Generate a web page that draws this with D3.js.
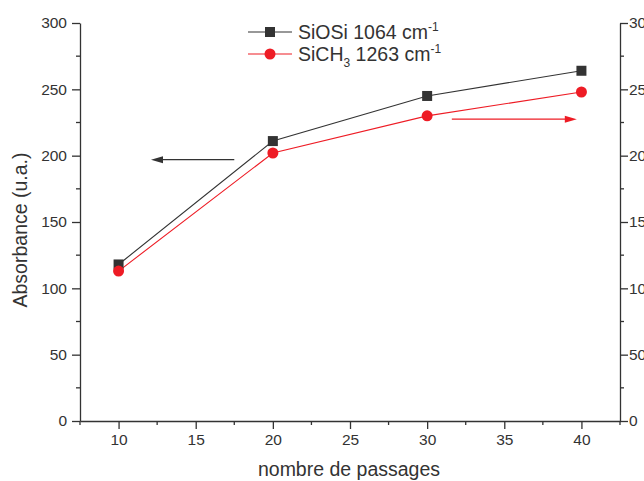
<!DOCTYPE html>
<html><head><meta charset="utf-8">
<script src="https://cdn.jsdelivr.net/npm/d3@7"></script>
<style>body{margin:0;background:#fff}svg{display:block;font-family:Arial,"Liberation Sans",sans-serif}</style>
</head><body><svg id="c" width="644" height="481"></svg>
<script>
const passages = [10, 20, 30, 40];
const siosi = [118, 211, 245, 264];
const sich3 = [113, 202, 230, 248];
const xTicks = [10, 15, 20, 25, 30, 35, 40];
const yTicks = [0, 50, 100, 150, 200, 250, 300];
const xMinor = [7.5, 12.5, 17.5, 22.5, 27.5, 32.5, 37.5, 42.5];
const yMinor = [25, 75, 125, 175, 225, 275];
// annotation arrows in data units: [x1, x2, y]
const arrowLeft = [17.5, 12.1, 197];
const arrowRight = [31.6, 39.7, 227.5];

const svg = d3.select("#c");
const m = {l: 80, r: 620, t: 23, b: 421};
const x = d3.scaleLinear().domain([7.5, 42.5]).range([m.l, m.r]);
const y = d3.scaleLinear().domain([0, 300]).range([m.b, m.t]);
const axCol = "#333";
const tickFont = 15.5, titleFont = 19.5;

function style(g){
  g.selectAll("path.domain").attr("stroke", axCol).attr("stroke-width", 1.3);
  g.selectAll(".tick line").attr("stroke", axCol).attr("stroke-width", 1.3);
  g.selectAll(".tick text").attr("fill", axCol).attr("font-size", tickFont);
}
// left axis
const gl = svg.append("g").attr("transform", `translate(${m.l},0)`)
  .call(d3.axisLeft(y).tickValues(yTicks).tickSize(8).tickPadding(5).tickSizeOuter(0));
style(gl);
gl.selectAll(".minor").data(yMinor).join("line").attr("class","minor")
  .attr("x1", -4).attr("x2", 0).attr("y1", d=>y(d)).attr("y2", d=>y(d)).attr("stroke", axCol).attr("stroke-width", 1.3);
// right axis
const gr = svg.append("g").attr("transform", `translate(${m.r},0)`)
  .call(d3.axisRight(y).tickValues(yTicks).tickSize(8).tickPadding(1).tickSizeOuter(0));
style(gr);
gr.selectAll(".minor").data(yMinor).join("line").attr("class","minor")
  .attr("x1", 0).attr("x2", 4).attr("y1", d=>y(d)).attr("y2", d=>y(d)).attr("stroke", axCol).attr("stroke-width", 1.3);
// bottom axis
const gb = svg.append("g").attr("transform", `translate(0,${m.b})`)
  .call(d3.axisBottom(x).tickValues(xTicks).tickSize(8).tickPadding(5).tickSizeOuter(0));
style(gb);
gb.selectAll(".minor").data(xMinor).join("line").attr("class","minor")
  .attr("y1", 0).attr("y2", 4).attr("x1", d=>x(d)).attr("x2", d=>x(d)).attr("stroke", axCol).attr("stroke-width", 1.3);

// axis titles
svg.append("text").attr("x", 349).attr("y", 476).attr("text-anchor","middle")
  .attr("font-size", titleFont).attr("fill", axCol).text("nombre de passages");
svg.append("text").attr("transform","translate(27,230) rotate(-90)").attr("text-anchor","middle")
  .attr("font-size", titleFont).attr("fill", axCol).text("Absorbance (u.a.)");

const blk = "#333", red = "#ee1c25";
const line = d3.line().x(d=>x(d[0])).y(d=>y(d[1]));
const s1 = passages.map((p,i)=>[p, siosi[i]]);
const s2 = passages.map((p,i)=>[p, sich3[i]]);
svg.append("path").attr("d", line(s1)).attr("fill","none").attr("stroke", blk).attr("stroke-width", 1.1);
svg.append("path").attr("d", line(s2)).attr("fill","none").attr("stroke", red).attr("stroke-width", 1.1);
svg.selectAll(".sq").data(s1).join("rect").attr("class","sq")
  .attr("x", d=>x(d[0])-5).attr("y", d=>y(d[1])-5).attr("width",10).attr("height",10).attr("fill", blk);
svg.selectAll(".ci").data(s2).join("circle").attr("class","ci")
  .attr("cx", d=>x(d[0])).attr("cy", d=>y(d[1])).attr("r", 5.5).attr("fill", red);

// arrows
function arrow(a, col){
  const x1 = x(a[0]), x2 = x(a[1]), yy = y(a[2]);
  const dir = Math.sign(x2 - x1);
  svg.append("line").attr("x1", x1).attr("x2", x2 - dir*10).attr("y1", yy).attr("y2", yy)
    .attr("stroke", col).attr("stroke-width", 1.2);
  svg.append("path").attr("d", `M${x2},${yy} L${x2-dir*12},${yy-3.5} L${x2-dir*12},${yy+3.5} Z`).attr("fill", col);
}
arrow(arrowLeft, blk);
arrow(arrowRight, red);

// legend
const lg = svg.append("g");
lg.append("line").attr("x1",248).attr("x2",292).attr("y1",32).attr("y2",32).attr("stroke",blk).attr("stroke-width",1.1);
lg.append("rect").attr("x",265).attr("y",27).attr("width",10).attr("height",10).attr("fill",blk);
const t1 = lg.append("text").attr("x",298).attr("y",39).attr("font-size",titleFont).attr("fill",axCol);
t1.append("tspan").text("SiOSi 1064 cm");
t1.append("tspan").attr("font-size",12).attr("dy",-8).text("-1");
lg.append("line").attr("x1",248).attr("x2",292).attr("y1",54).attr("y2",54).attr("stroke",red).attr("stroke-width",1.1);
lg.append("circle").attr("cx",270).attr("cy",54).attr("r",5.5).attr("fill",red);
const t2 = lg.append("text").attr("x",298).attr("y",61).attr("font-size",titleFont).attr("fill",axCol);
t2.append("tspan").text("SiCH");
t2.append("tspan").attr("font-size",12).attr("dy",6).text("3");
t2.append("tspan").attr("dy",-6).text(" 1263 cm");
t2.append("tspan").attr("font-size",12).attr("dy",-8).text("-1");
</script></body></html>
